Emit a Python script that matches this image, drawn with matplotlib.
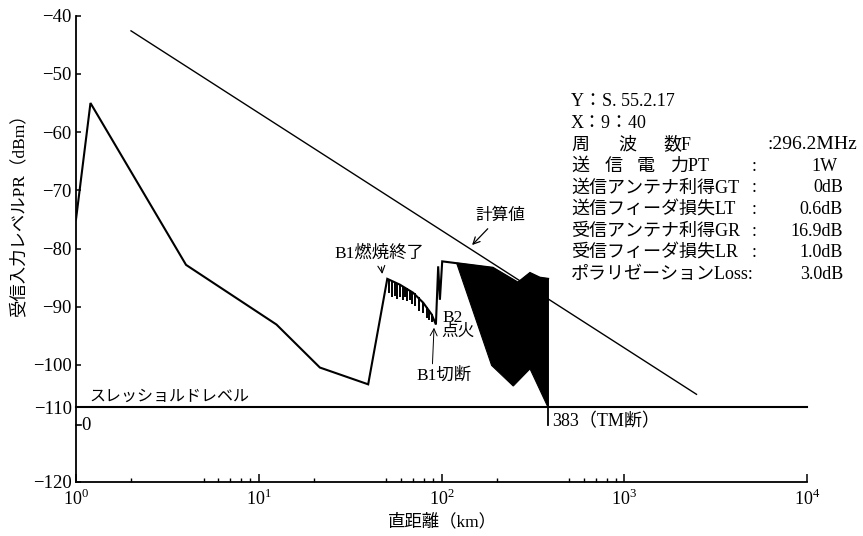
import numpy as np
import matplotlib.pyplot as plt
from matplotlib.ticker import FixedLocator, FixedFormatter, NullFormatter

plt.rcParams['font.family'] = ['Liberation Serif', 'Noto Sans CJK JP']
plt.rcParams['mathtext.fontset'] = 'custom'
plt.rcParams['mathtext.rm'] = 'Liberation Serif'

# measured received level vs. slant range
dist_km = [1.0, 1.2, 4.0, 12.5, 21.6, 39.7, 50.5, 59.2, 70.0, 79.4, 88.3,
           93.2, 95.9, 98.0, 100.9, 191, 262, 305, 345, 383]
level_dbm = [-75.0, -55.0, -82.8, -93.05, -100.6, -104.55, -85.2, -86.2,
             -87.6, -89.3, -91.3, -93.05, -83.05, -88.8, -82.2, -83.3,
             -85.85, -84.2, -85.0, -85.2]

# short drop-outs under the B1 burn-out part
ripple_km = [51.3, 53.5, 55.6, 57.4, 59.2, 61.2, 63.1, 65.1, 67.1, 69.3,
             71.5, 75.5, 79.4, 82.9, 85.5, 88.3]
ripple_top = [-85.4, -85.6, -85.8, -86.0, -86.2, -86.4, -86.6, -86.85,
              -87.1, -87.4, -87.7, -88.3, -89.3, -90.0, -90.6, -91.3]
ripple_bottom = [-87.6, -88.4, -88.1, -88.6, -88.25, -88.9, -88.4, -89.0,
                 -88.8, -89.6, -89.9, -90.8, -91.0, -91.85, -92.3, -92.7]

# fluctuation band after B2 ignition
band_km = [121, 191, 262, 305, 345, 383, 383, 305, 247, 188, 121]
band_dbm = [-82.5, -83.3, -85.85, -84.2, -85.0, -85.2, -110.0, -100.9,
            -104.95, -100.1, -82.5]

# free-space calculation
calc_km = [2.0, 2485]
calc_dbm = [-42.6, -106.9]

threshold_dbm = -110
tm_cut_km = 383
tm_cut_dbm = [-85.2, -112.4]
launch_mark_dbm = -112.4

yticks = [-40, -50, -60, -70, -80, -90, -100, -110, -120]
ytick_labels = ['\u221240', '\u221250', '\u221260', '\u221270', '\u221280',
                '\u221290', '\u2212100', '\u2212110', '\u2212120']
xticks = [1, 10, 100, 1000, 10000]
xtick_labels = ['$10^{0}$', '$10^{1}$', '$10^{2}$', '$10^{3}$', '$10^{4}$']
minor_xticks = [2, 5, 6, 7, 8, 9, 20, 50, 60, 70, 80, 90,
                200, 500, 600, 700, 800, 900]

info_rows = [
    ('送信アンテナ利得GT', '0dB'),
    ('送信フィーダ損失LT', '0.6dB'),
    ('受信アンテナ利得GR', '16.9dB'),
    ('受信フィーダ損失LR', '1.0dB'),
]

# the lower part of the dBm axis is printed unevenly
y_knots = [-120, -110, -100, -40]
y_place = [-120.1, -107.3, -100, -40]


def y_fwd(y):
    y = np.asarray(y, dtype=float)
    out = np.interp(y, y_knots, y_place)
    out = np.where(y < -120, y - 0.1, out)
    return np.where(y > -40, y, out)


def y_inv(v):
    v = np.asarray(v, dtype=float)
    out = np.interp(v, y_place, y_knots)
    out = np.where(v < -120.1, v + 0.1, out)
    return np.where(v > -40, v, out)


W, H = 863, 536


def at(px, py):
    return px / W, 1 - py / H


fig = plt.figure(figsize=(W / 100, H / 100), dpi=100)
ax = fig.add_axes([76 / W, 1 - 482 / H, (807 - 76) / W, (482 - 15.7) / H])
ax.set_xscale('log')
ax.set_yscale('function', functions=(y_fwd, y_inv))
ax.set_xlim(1, 1e4)
ax.set_ylim(-120, -40)

ax.plot(dist_km, level_dbm, color='k', lw=1.5, solid_joinstyle='miter')
ax.vlines(ripple_km, ripple_bottom, ripple_top, color='k', lw=1.4)
ax.fill(band_km, band_dbm, color='k', lw=0.8)
ax.plot([tm_cut_km, tm_cut_km], tm_cut_dbm, color='k', lw=1.3)
ax.plot(calc_km, calc_dbm, color='k', lw=1.0)
ax.plot([1, 1e4], [threshold_dbm, threshold_dbm], color='k', lw=1.5, clip_on=False)
ax.plot([1.0, 1.06], [launch_mark_dbm, launch_mark_dbm], color='k', lw=1.2, clip_on=False)

for side in ('top', 'right'):
    ax.spines[side].set_visible(False)
for side in ('left', 'bottom'):
    ax.spines[side].set_linewidth(1.3)

ax.xaxis.set_major_locator(FixedLocator(xticks))
ax.xaxis.set_major_formatter(FixedFormatter(xtick_labels))
ax.xaxis.set_minor_locator(FixedLocator(minor_xticks))
ax.xaxis.set_minor_formatter(NullFormatter())
ax.yaxis.set_major_locator(FixedLocator(yticks))
ax.yaxis.set_major_formatter(FixedFormatter(ytick_labels))
ax.yaxis.set_minor_locator(FixedLocator([]))
ax.tick_params(axis='x', which='major', direction='in', length=6, width=1.1,
               labelsize=13, pad=5)
ax.tick_params(axis='x', which='minor', direction='in', length=3, width=1.0)
ax.tick_params(axis='y', which='major', direction='in', length=3.5, width=1.1,
               labelsize=13.5, pad=3)

# labels inside the plot
ax.text(1.19, -107.5, 'スレッショルドレベル', fontsize=11.5, va='center', ha='left')
ax.text(1.075, launch_mark_dbm, '0', fontsize=13.5, va='center', ha='left')
ax.text(405, -111.9, '383（TM断）', fontsize=13, va='center', ha='left')
ax.annotate('計算値', xy=(147, -79.4), xytext=(209, -74.4), fontsize=12,
            ha='center', va='center',
            arrowprops=dict(arrowstyle='->', color='k', lw=0.9, shrinkA=2, shrinkB=0))
ax.annotate('B1燃焼終了', xy=(47.5, -84.6), xytext=(46, -80.8), fontsize=12.5,
            ha='center', va='center',
            arrowprops=dict(arrowstyle='->', color='k', lw=0.8, shrinkA=2, shrinkB=1))
ax.text(101.8, -91.85, 'B2', fontsize=12.5, ha='left', va='center')
ax.text(99.2, -94.4, '点火', fontsize=12, ha='left', va='center')
ax.annotate('B1切断', xy=(91, -93.6), xytext=(73.3, -102.6), fontsize=12.5,
            ha='left', va='center',
            arrowprops=dict(arrowstyle='->', color='k', lw=0.7, shrinkA=1, shrinkB=0,
                            relpos=(0.28, 1.0)))

fig.text(*at(18.5, 211), '受信入力レベルPR（dBm）', rotation=90, fontsize=12.5,
         ha='center', va='center')
fig.text(*at(442, 522), '直距離（km）', fontsize=12.5, ha='center', va='center')

# flight and link parameters
fs = 13
fig.text(*at(571, 101.7), 'Y：S. 55.2.17', fontsize=fs, va='center')
fig.text(*at(571, 123), 'X：9：40', fontsize=fs, va='center')
fig.text(*at(571, 145), '周', fontsize=fs, va='center')
fig.text(*at(618, 145), '波', fontsize=fs, va='center')
fig.text(*at(663, 145), '数F', fontsize=fs, va='center')
fig.text(*at(767, 145), ':296.2MHz', fontsize=14, va='center')
fig.text(*at(571, 166.7), '送', fontsize=fs, va='center')
fig.text(*at(605, 166.7), '信', fontsize=fs, va='center')
fig.text(*at(637, 166.7), '電', fontsize=fs, va='center')
fig.text(*at(670, 166.7), '力PT', fontsize=fs, va='center')
fig.text(*at(752, 166.7), ':', fontsize=fs, va='center')
fig.text(*at(838, 166.7), '1W', fontsize=fs, va='center', ha='right')
for i, (name, val) in enumerate(info_rows):
    py = 188 + i * 21.6
    fig.text(*at(571, py), name, fontsize=fs, va='center')
    fig.text(*at(752, py), ':', fontsize=fs, va='center')
    fig.text(*at(843, py), val, fontsize=fs, va='center', ha='right')
fig.text(*at(571, 274.5), 'ポラリゼーションLoss:', fontsize=fs, va='center')
fig.text(*at(843, 274.5), '3.0dB', fontsize=fs, va='center', ha='right')

fig.savefig('out.png', dpi=100)
